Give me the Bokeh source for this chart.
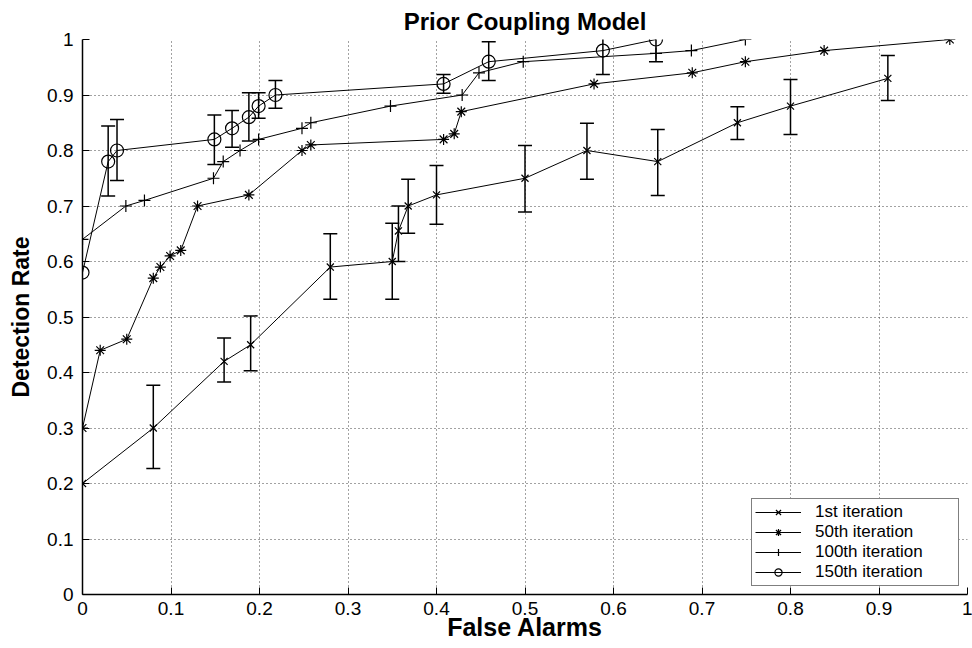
import math
from bokeh.plotting import figure
from bokeh.models import Range1d, Whisker, ColumnDataSource, TeeHead, FixedTicker, Legend
from bokeh.embed import file_html
from bokeh.resources import INLINE

# ---- data ----
x_ticks = [0, 0.1, 0.2, 0.3, 0.4, 0.5, 0.6, 0.7, 0.8, 0.9, 1.0]
y_ticks = [0, 0.1, 0.2, 0.3, 0.4, 0.5, 0.6, 0.7, 0.8, 0.9, 1.0]

series_names = ["1st iteration", "50th iteration", "100th iteration", "150th iteration"]

fa1 = [0, 0.08, 0.16, 0.19, 0.28, 0.35, 0.357, 0.368, 0.40, 0.50, 0.57, 0.65, 0.74, 0.80, 0.91]
dr1 = [0.20, 0.30, 0.42, 0.45, 0.59, 0.60, 0.655, 0.70, 0.72, 0.75, 0.80, 0.78, 0.85, 0.88, 0.93]
lo1 = [math.nan, 0.227, 0.383, 0.403, 0.532, 0.532, 0.60, 0.651, 0.667, 0.689, 0.748, 0.719, 0.820, 0.829, 0.89]
hi1 = [math.nan, 0.377, 0.462, 0.502, 0.65, 0.669, 0.70, 0.748, 0.773, 0.809, 0.849, 0.838, 0.879, 0.928, 0.971]

fa50 = [0, 0.02, 0.05, 0.08, 0.088, 0.099, 0.111, 0.13, 0.188, 0.248, 0.258, 0.408, 0.42, 0.428, 0.578, 0.689, 0.749, 0.838, 0.98]
dr50 = [0.30, 0.44, 0.46, 0.57, 0.59, 0.61, 0.62, 0.70, 0.72, 0.80, 0.81, 0.82, 0.83, 0.87, 0.92, 0.94, 0.96, 0.98, 1.0]

fa100 = [0, 0.049, 0.07, 0.148, 0.159, 0.178, 0.199, 0.248, 0.258, 0.348, 0.429, 0.448, 0.498, 0.648, 0.688, 0.749]
dr100 = [0.64, 0.70, 0.71, 0.75, 0.78, 0.80, 0.82, 0.84, 0.85, 0.88, 0.90, 0.94, 0.96, 0.975, 0.98, 1.0]

fa150 = [0, 0.029, 0.039, 0.149, 0.169, 0.188, 0.199, 0.218, 0.408, 0.459, 0.588, 0.648]
dr150 = [0.58, 0.78, 0.80, 0.82, 0.84, 0.86, 0.88, 0.90, 0.92, 0.96, 0.98, 1.0]
lo150 = [math.nan, 0.718, 0.746, 0.775, 0.806, 0.817, 0.858, 0.876, 0.903, 0.926, 0.937, 0.96]
hi150 = [math.nan, 0.844, 0.856, 0.864, 0.872, 0.904, 0.904, 0.926, 0.937, 0.996, 1.02, 1.04]

FONT = "Liberation Sans"

p = figure(width=972, height=648, output_backend="svg", toolbar_location=None,
           x_range=Range1d(0, 1), y_range=Range1d(0, 1),
           min_border_left=82, min_border_right=5, min_border_top=38, min_border_bottom=54)
p.outline_line_color = None
p.background_fill_color = "white"
p.border_fill_color = "white"

p.title.text = "Prior Coupling Model"
p.title.align = "center"
p.title.text_font = FONT
p.title.text_font_size = "24px"
p.title.text_font_style = "bold"
p.title.text_color = "black"

for ax in (p.xaxis[0], p.yaxis[0]):
    ax.axis_line_color = "black"
    ax.axis_line_width = 1.5
    ax.major_tick_in = 7
    ax.major_tick_out = 0
    ax.minor_tick_in = 0
    ax.minor_tick_out = 0
    ax.major_tick_line_color = "black"
    ax.major_label_text_font = FONT
    ax.major_label_text_font_size = "19px"
    ax.major_label_text_color = "black"
    ax.axis_label_text_font = FONT
    ax.axis_label_text_font_style = "bold"
    ax.axis_label_text_color = "black"

p.xaxis[0].ticker = FixedTicker(ticks=x_ticks)
p.yaxis[0].ticker = FixedTicker(ticks=y_ticks)
p.xaxis[0].major_label_overrides = {t: ("%g" % t) for t in x_ticks}
p.yaxis[0].major_label_overrides = {t: ("%g" % t) for t in y_ticks}
p.xaxis.axis_label = "False Alarms"
p.yaxis.axis_label = "Detection Rate"
p.xaxis.axis_label_text_font_size = "25px"
p.yaxis.axis_label_text_font_size = "23px"
p.xaxis.major_label_standoff = 7
p.xaxis.axis_label_standoff = -5
p.yaxis.major_label_standoff = 9
p.yaxis.axis_label_standoff = 10

for g in (p.xgrid[0], p.ygrid[0]):
    g.grid_line_color = "#444444"
    g.grid_line_dash = "1 3"
    g.grid_line_width = 1
    g.ticker = FixedTicker(ticks=x_ticks)

def add_errors(xs, lo, hi):
    ex, el, eh = [], [], []
    for x, a, b in zip(xs, lo, hi):
        if not (math.isnan(a) or math.isnan(b)):
            ex.append(x); el.append(a); eh.append(b)
    src = ColumnDataSource(dict(x=ex, lower=el, upper=eh))
    w = Whisker(source=src, base="x", lower="lower", upper="upper", dimension="height",
                line_color="black", line_width=1.5,
                upper_head=TeeHead(size=14, line_color="black", line_width=1.5),
                lower_head=TeeHead(size=14, line_color="black", line_width=1.5))
    p.add_layout(w)

add_errors(fa1, lo1, hi1)
add_errors(fa150, lo150, hi150)

styles = [
    (fa1, dr1, "x", 10),
    (fa50, dr50, "asterisk", 11),
    (fa100, dr100, "cross", 12),
    (fa150, dr150, "circle", 13),
]

items = []
for name, (xs, ys, mk, sz) in zip(series_names, styles):
    r1 = p.line(xs, ys, line_color="black", line_width=1)
    r2 = p.scatter(xs, ys, marker=mk, size=sz, line_color="black", line_width=1.2,
                   fill_color=None)
    items.append((name, [r1, r2]))

legend = Legend(items=items, location="bottom_right")
legend.margin = 8
legend.padding = 3
legend.spacing = 0
legend.glyph_width = 46
legend.glyph_height = 18
legend.label_height = 18
legend.label_width = 140
legend.label_standoff = 14
legend.label_text_font = FONT
legend.label_text_font_size = "17px"
legend.label_text_color = "black"
legend.border_line_color = "black"
legend.border_line_width = 1.5
legend.background_fill_color = "white"
legend.background_fill_alpha = 1
p.add_layout(legend, "center")

open("out.html", "w").write(file_html(p, INLINE))
